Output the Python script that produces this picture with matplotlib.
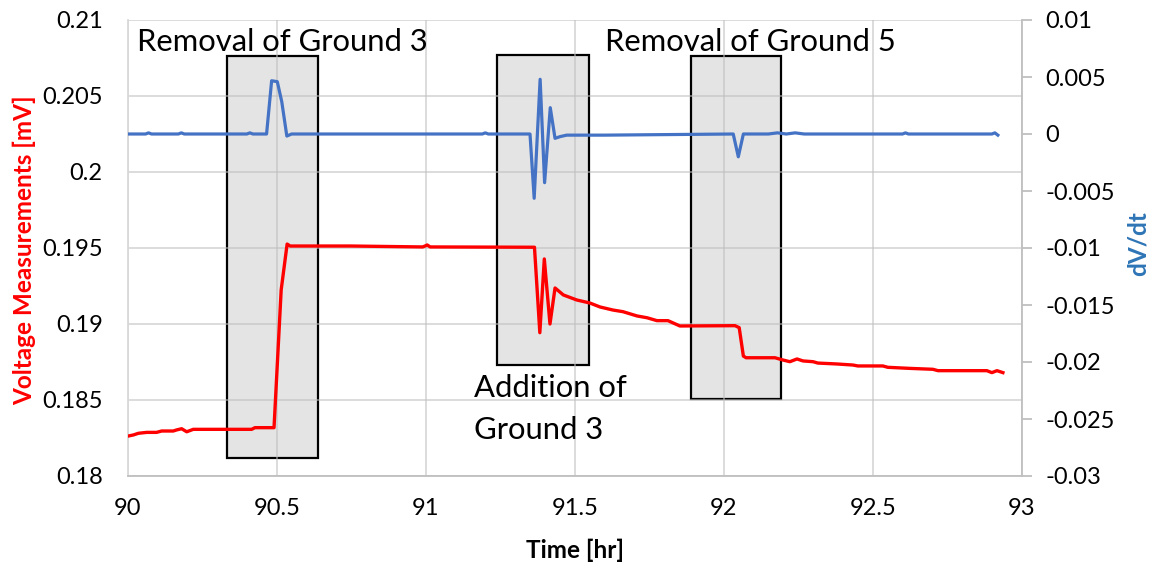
import matplotlib
matplotlib.use("Agg")
import matplotlib.pyplot as plt
from matplotlib.patches import Rectangle

plt.rcParams['font.family'] = ['Lato', 'DejaVu Sans']

# voltage (left axis)
volt_t = [90.002, 90.019, 90.036, 90.064, 90.097, 90.114, 90.153, 90.164, 90.181, 90.198,
          90.22, 90.416, 90.427, 90.483, 90.491, 90.515, 90.535, 90.545, 90.75, 90.99,
          91.0, 91.005, 91.015, 91.365, 91.383, 91.398, 91.417, 91.434, 91.462, 91.507,
          91.551, 91.585, 91.628, 91.662, 91.709, 91.743, 91.776, 91.813, 91.853, 92.038,
          92.052, 92.066, 92.075, 92.172, 92.199, 92.222, 92.246, 92.266, 92.3, 92.316,
          92.38, 92.434, 92.45, 92.534, 92.551, 92.625, 92.702, 92.719, 92.883, 92.9,
          92.917, 92.937]
volt_v = [0.18263, 0.1827, 0.18281, 0.18287, 0.18287, 0.18296, 0.18296, 0.18303, 0.18311, 0.18291,
          0.18307, 0.18307, 0.18318, 0.18318, 0.18318, 0.19224, 0.19526, 0.19513, 0.19513, 0.19507,
          0.19515, 0.1952, 0.19507, 0.19505, 0.18943, 0.19428, 0.19, 0.19237, 0.19191, 0.19158,
          0.19138, 0.19112, 0.19092, 0.19081, 0.19053, 0.19041, 0.19022, 0.19022, 0.18987, 0.18989,
          0.18976, 0.18789, 0.18778, 0.18778, 0.18763, 0.18752, 0.1877, 0.18757, 0.18752, 0.18743,
          0.18737, 0.1873, 0.18724, 0.18724, 0.18715, 0.18708, 0.18702, 0.18693, 0.18693, 0.1868,
          0.18693, 0.1868]

# dV/dt (right axis)
dvdt_t = [90.0, 90.06, 90.07, 90.08, 90.17, 90.18, 90.19, 90.40, 90.41, 90.42, 90.466,
          90.483, 90.502, 90.517, 90.534, 90.55, 91.19, 91.2, 91.21, 91.35, 91.364,
          91.384, 91.399, 91.418, 91.434, 91.451, 91.473, 91.6, 92.032, 92.049, 92.066,
          92.15, 92.18, 92.21, 92.24, 92.27, 92.3, 92.6, 92.61, 92.62, 92.9, 92.91, 92.92]
dvdt_v = [0.0, 0.0, 0.0001, 0.0, 0.0, 0.0001, 0.0, 0.0, 0.0001, 0.0, 0.0,
          0.00467, 0.00459, 0.00283, -0.00018, 0.0, 0.0, 0.0001, 0.0, 0.0, -0.00564,
          0.0048, -0.00427, 0.00231, -0.00038, -0.00023, -0.0001, -0.0001, 0.0, -0.002, 0.0,
          0.0, 0.0001, 0.0, 0.0001, 0.0, 0.0, 0.0, 0.0001, 0.0, 0.0, 0.0001, -0.0001]

# event boxes: (x0, x1, y0, y1) on the voltage axis
boxes = [(90.333, 90.639, 0.18118, 0.20763),
         (91.239, 91.548, 0.1873, 0.2077),
         (91.890, 92.192, 0.18507, 0.20763)]

x_ticks = [90, 90.5, 91, 91.5, 92, 92.5, 93]
x_labels = ["90", "90.5", "91", "91.5", "92", "92.5", "93"]
left_ticks = [0.18, 0.185, 0.19, 0.195, 0.2, 0.205, 0.21]
left_labels = ["0.18", "0.185", "0.19", "0.195", "0.2", "0.205", "0.21"]
right_ticks = [-0.03, -0.025, -0.02, -0.015, -0.01, -0.005, 0, 0.005, 0.01]
right_labels = ["-0.03", "-0.025", "-0.02", "-0.015", "-0.01", "-0.005", "0", "0.005", "0.01"]

fig = plt.figure(figsize=(11.54, 5.63), dpi=100)
ax = fig.add_axes([127.7/1154, 1-476/563, 894/1154, 456/563])
ax2 = ax.twinx()

for x0, x1, y0, y1 in boxes:
    ax.add_patch(Rectangle((x0, y0), x1-x0, y1-y0, facecolor='#E4E4E4',
                           edgecolor='black', linewidth=1.6, zorder=1))

ax.plot(volt_t, volt_v, color='#FF0000', linewidth=2.4, zorder=3)
ax2.plot(dvdt_t, dvdt_v, color='#4472C4', linewidth=2.3)

ax.set_xlim(90, 93)
ax.set_ylim(0.18, 0.21)
ax2.set_ylim(-0.03, 0.01)
ax.set_xticks(x_ticks, x_labels)
ax.set_yticks(left_ticks, left_labels)
ax2.set_yticks(right_ticks, right_labels)

ax.grid(True, color='#BFBFBF', alpha=0.6, linewidth=1.3)

for s in ['top', 'right']:
    ax.spines[s].set_visible(False)
for s in ['top', 'left', 'bottom']:
    ax2.spines[s].set_visible(False)
ax.spines['left'].set_color('#D9D9D9')
ax.spines['bottom'].set_color('#BFBFBF')
ax2.spines['right'].set_color('#BFBFBF')
for sp in [ax.spines['left'], ax.spines['bottom'], ax2.spines['right']]:
    sp.set_linewidth(1.3)

ax.tick_params(axis='both', length=0, labelsize=17)
ax.tick_params(axis='y', pad=18)
ax.tick_params(axis='x', pad=16)
ax2.tick_params(axis='y', length=7, width=1.3, color='#BFBFBF', labelsize=17, pad=10)

ax.text(90.519, 0.20855, "Removal of Ground 3", fontsize=22.3, ha='center', va='center')
ax.text(92.09, 0.20855, "Removal of Ground 5", fontsize=22.3, ha='center', va='center')
ax.text(91.162, 0.1858, "Addition of", fontsize=22.3, ha='left', va='center')
ax.text(91.162, 0.1830, "Ground 3", fontsize=22.3, ha='left', va='center')

fig.text(24/1154, 1-250/563, "Voltage Measurements [mV]", color='#FF0000', fontsize=17.5,
         fontweight='bold', rotation=90, ha='center', va='center')
fig.text(1138.5/1154, 1-243.5/563, "dV/dt", color='#2E75B6', fontsize=17.5,
         fontweight='bold', rotation=90, ha='center', va='center')
fig.text(574.5/1154, 1-550/563, "Time [hr]", fontsize=17.5, fontweight='bold',
         ha='center', va='center')

fig.savefig("out.png", dpi=100)
